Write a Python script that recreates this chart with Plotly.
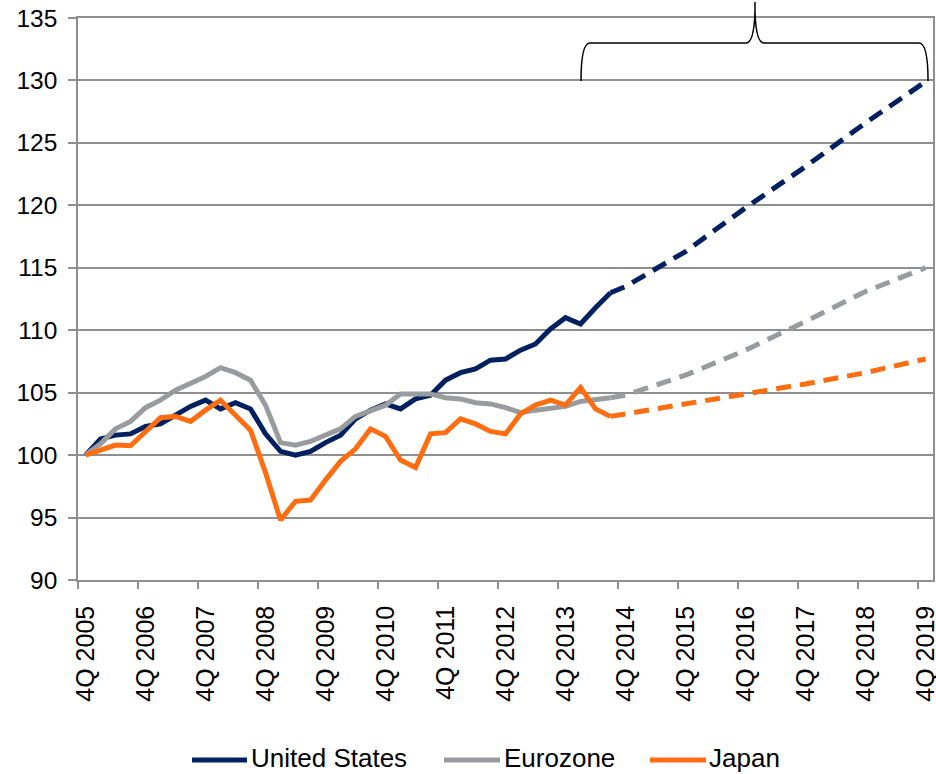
import plotly.graph_objects as go

# quarter labels, 4Q 2005 .. 4Q 2019
quarters = ["4Q 2005"] + [f"{q}Q {y}" for y in range(2006, 2020) for q in (1, 2, 3, 4)]
tick_labels = [q for q in quarters if q.startswith("4Q")]

# history, 4Q 2005 .. 3Q 2014 (index, 4Q 2005 = 100)
us_hist = [100.0, 101.3, 101.6, 101.7, 102.3, 102.5, 103.2, 103.9, 104.4, 103.7,
           104.2, 103.7, 101.7, 100.3, 100.0, 100.3, 101.0, 101.6, 102.9, 103.6,
           104.1, 103.7, 104.5, 104.8, 106.0, 106.6, 106.9, 107.6, 107.7, 108.4,
           108.9, 110.1, 111.0, 110.5, 111.8, 113.0]
ez_hist = [100.0, 100.9, 102.1, 102.7, 103.8, 104.4, 105.2, 105.7, 106.3, 107.0,
           106.6, 106.0, 104.0, 101.0, 100.8, 101.1, 101.6, 102.1, 103.1, 103.5,
           104.0, 104.9, 104.9, 104.9, 104.6, 104.5, 104.2, 104.1, 103.8, 103.4,
           103.6, 103.8, 103.9, 104.3, 104.4, 104.6]
jp_hist = [100.0, 100.4, 100.8, 100.75, 101.9, 103.0, 103.1, 102.7, 103.6, 104.4,
           103.2, 102.0, 98.6, 94.8, 96.3, 96.4, 98.0, 99.5, 100.5, 102.1,
           101.5, 99.6, 99.0, 101.7, 101.8, 102.9, 102.5, 101.9, 101.7, 103.3,
           104.0, 104.4, 104.0, 105.4, 103.7, 103.1]

# forecast points (dashed)
fc_quarters = ["3Q 2014", "4Q 2014", "4Q 2015", "4Q 2016", "4Q 2017", "4Q 2018", "4Q 2019"]
us_fc = [113.0, 113.5, 116.3, 119.8, 123.1, 126.6, 129.9]
ez_fc = [104.6, 104.8, 106.4, 108.4, 110.7, 113.1, 115.0]
jp_fc = [103.1, 103.3, 104.0, 104.9, 105.7, 106.6, 107.7]

names = ["United States", "Eurozone", "Japan"]
colors = ["#002060", "#989c9f", "#ff6d10"]

FONT = "Liberation Sans, Arial, sans-serif"

hist_x = list(range(len(us_hist)))
fc_x = [quarters.index(q) for q in fc_quarters]

fig = go.Figure()

# dashed forecasts first, solid history on top
for vals, c in zip([us_fc, ez_fc, jp_fc], colors):
    fig.add_trace(go.Scatter(
        x=fc_x, y=vals, mode="lines", showlegend=False, hoverinfo="skip",
        line=dict(color=c, width=5, dash="15px,9px")
    ))

for vals, name, c in zip([us_hist, ez_hist, jp_hist], names, colors):
    fig.add_trace(go.Scatter(
        x=hist_x, y=vals, mode="lines", name=name, showlegend=False,
        line=dict(color=c, width=5)
    ))

# plot area in pixels
L, R, T, B = 78, 3, 18, 194
W, H = 936, 774
pw, ph = W - L - R, H - T - B


def px(x):
    return (x - L) / pw


def py(y):
    return (H - B - y) / ph


def pp(x, y):
    return f"{px(x):.4f},{py(y):.4f}"


# curly brace over the forecast period
brace = ("M" + pp(581, 81) + " Q" + pp(581, 43) + " " + pp(590, 43)
         + " L" + pp(746, 43) + " Q" + pp(754, 43) + " " + pp(755, 12)
         + " L" + pp(755, 2) + " L" + pp(755, 12)
         + " Q" + pp(756, 43) + " " + pp(764, 43)
         + " L" + pp(919, 43) + " Q" + pp(928, 43) + " " + pp(928, 81))
fig.add_shape(type="path", path=brace, xref="paper", yref="paper",
              line=dict(color="black", width=1.5))

# legend drawn by hand below the axis
legend_pos = [(192, 247, 250), (444, 500, 503), (650, 706, 708)]
for (x0, x1, xt), name, c in zip(legend_pos, names, colors):
    fig.add_shape(type="line", xref="paper", yref="paper",
                  x0=px(x0), x1=px(x1), y0=py(760), y1=py(760),
                  line=dict(color=c, width=5))
    fig.add_annotation(x=px(xt), y=py(758), xref="paper", yref="paper",
                       text=name, showarrow=False, xanchor="left", yanchor="middle",
                       borderpad=0, font=dict(size=26, family=FONT, color="black"))

grid = "#8f8f8f"
fig.update_layout(
    width=W, height=H,
    margin=dict(l=L, r=R, t=T, b=B, autoexpand=False),
    paper_bgcolor="white", plot_bgcolor="white",
    font=dict(family=FONT, color="black"),
    showlegend=False,
)
fig.update_yaxes(
    range=[90, 135], dtick=5, tick0=90, automargin=False,
    showgrid=True, gridcolor=grid, gridwidth=1.5,
    showline=True, linecolor=grid, linewidth=1.5, mirror=True,
    ticks="outside", ticklen=8, tickcolor=grid, tickwidth=1.5,
    ticklabelstandoff=6,
    tickfont=dict(size=24.5, family=FONT, color="black"),
    zeroline=False,
)
fig.update_xaxes(
    range=[-0.5, len(quarters) - 0.5], automargin=False,
    tickmode="array",
    tickvals=[quarters.index(t) for t in tick_labels],
    ticktext=tick_labels,
    tickangle=-90, ticks="", ticklabelstandoff=14, ticklabeloverflow="allow",
    tickfont=dict(size=25, family=FONT, color="black"),
    minor=dict(tickmode="array",
               tickvals=[quarters.index(t) - 0.5 for t in tick_labels],
               ticks="outside", ticklen=7, tickcolor=grid, tickwidth=1.5,
               showgrid=False),
    showgrid=False, zeroline=False,
    showline=True, linecolor=grid, linewidth=1.5, mirror=True,
)

# drop the default page margin so the figure sits at the window corner
fig.write_html("out.html", config={"displayModeBar": False},
               post_script="document.body.style.margin='0';document.body.style.overflow='hidden';")
